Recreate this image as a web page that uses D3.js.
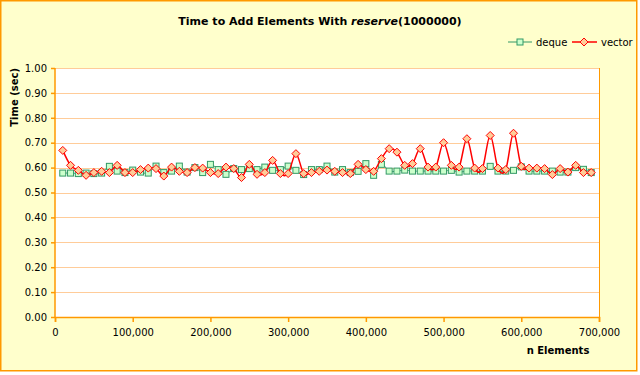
<!DOCTYPE html>
<html>
<head>
<meta charset="utf-8">
<script src="https://cdn.jsdelivr.net/npm/d3@7"></script>
<style>
  body { margin: 0; background: #fff; }
  text { font-family: "DejaVu Sans", Verdana, sans-serif; }
</style>
</head>
<body>
<script>
// n elements (x values)
const nElements = [10000, 20000, 30000, 40000, 50000, 60000, 70000, 80000, 90000, 100000,
  110000, 120000, 130000, 140000, 150000, 160000, 170000, 180000, 190000, 200000,
  210000, 220000, 230000, 240000, 250000, 260000, 270000, 280000, 290000, 300000,
  310000, 320000, 330000, 340000, 350000, 360000, 370000, 380000, 390000, 400000,
  410000, 420000, 430000, 440000, 450000, 460000, 470000, 480000, 490000, 500000,
  510000, 520000, 530000, 540000, 550000, 560000, 570000, 580000, 590000, 600000,
  610000, 620000, 630000, 640000, 650000, 660000, 670000, 680000, 690000]

// time (sec)
const dequeTimes = [0.578, 0.578, 0.576, 0.578, 0.576, 0.578, 0.605, 0.586, 0.580, 0.590,
  0.582, 0.578, 0.606, 0.580, 0.586, 0.606, 0.582, 0.600, 0.580, 0.613,
  0.592, 0.573, 0.596, 0.592, 0.596, 0.592, 0.602, 0.589, 0.592, 0.606,
  0.589, 0.572, 0.592, 0.592, 0.606, 0.582, 0.592, 0.580, 0.585, 0.616,
  0.569, 0.613, 0.586, 0.586, 0.590, 0.586, 0.586, 0.586, 0.586, 0.586,
  0.589, 0.582, 0.586, 0.586, 0.586, 0.605, 0.586, 0.586, 0.589, 0.603,
  0.586, 0.586, 0.586, 0.586, 0.582, 0.582, 0.600, 0.593, 0.580]

const vectorTimes = [0.669, 0.609, 0.589, 0.569, 0.580, 0.585, 0.580, 0.609, 0.580, 0.580,
  0.592, 0.598, 0.596, 0.566, 0.602, 0.585, 0.580, 0.600, 0.598, 0.580,
  0.576, 0.602, 0.596, 0.560, 0.613, 0.573, 0.580, 0.629, 0.576, 0.576,
  0.656, 0.576, 0.580, 0.585, 0.590, 0.585, 0.580, 0.576, 0.613, 0.592,
  0.585, 0.636, 0.676, 0.662, 0.609, 0.616, 0.676, 0.602, 0.602, 0.700,
  0.609, 0.602, 0.716, 0.598, 0.596, 0.729, 0.598, 0.592, 0.738, 0.605,
  0.598, 0.598, 0.596, 0.572, 0.596, 0.582, 0.609, 0.580, 0.580]

const xTicks = [0, 100000, 200000, 300000, 400000, 500000, 600000, 700000]
const yTicks = [0, 0.1, 0.2, 0.3, 0.4, 0.5, 0.6, 0.7, 0.8, 0.9, 1.0]
const seriesNames = ["deque", "vector"]

const W = 640, H = 375
const plotL = 55, plotR = 599, plotT = 68, plotB = 317
const orange = "#ff9900"

const svg = d3.select("body").append("svg").attr("width", W).attr("height", H)

// chart background + border
svg.append("rect").attr("x", 0.75).attr("y", 0.75).attr("width", 636).attr("height", 370)
  .attr("fill", "#ffffcc").attr("stroke", orange).attr("stroke-width", 1.5)

const x = d3.scaleLinear().domain([0, 700000]).range([plotL, plotR])
const y = d3.scaleLinear().domain([0, 1]).range([plotB, plotT])

svg.append("rect").attr("x", plotL).attr("y", plotT)
  .attr("width", plotR - plotL).attr("height", plotB - plotT).attr("fill", "#fff")

// gridlines
svg.append("g").selectAll("line").data(yTicks.slice(1)).enter().append("line")
  .attr("x1", plotL).attr("x2", plotR)
  .attr("y1", d => Math.round(y(d)) + 0.5).attr("y2", d => Math.round(y(d)) + 0.5)
  .attr("stroke", "#ffcc99").attr("stroke-width", 1)

// right border of plot
svg.append("line").attr("x1", plotR + 0.5).attr("x2", plotR + 0.5)
  .attr("y1", plotT).attr("y2", plotB).attr("stroke", orange)

// axes
const yAxis = d3.axisLeft(y).tickValues(yTicks).tickFormat(d3.format(".2f")).tickSize(4).tickPadding(4)
const xAxis = d3.axisBottom(x).tickValues(xTicks).tickFormat(d3.format(",")).tickSize(5).tickPadding(7)

const gy = svg.append("g").attr("transform", "translate(" + plotL + ",0)").call(yAxis)
const gx = svg.append("g").attr("transform", "translate(0," + plotB + ")").call(xAxis)
;[gy, gx].forEach(g => {
  g.selectAll("path,line").attr("stroke", orange).attr("stroke-width", 1.5)
  g.selectAll("text").attr("fill", "#000").style("font-size", "10px")
    .style("font-family", "DejaVu Sans, Verdana, sans-serif")
})
gy.select(".domain").attr("d", "M0," + plotB + "V" + plotT)

// series
const pts = vals => vals.map((v, i) => [x(nElements[i]), y(v)])
const line = d3.line().curve(d3.curveCatmullRom.alpha(0))

const diamond = "M0,-4L4,0L0,4L-4,0Z"

function drawDeque() {
  const g = svg.append("g")
  g.append("path").attr("d", line(pts(dequeTimes)))
    .attr("fill", "none").attr("stroke", "#339966").attr("stroke-width", 1)
  g.selectAll("rect").data(pts(dequeTimes)).enter().append("rect")
    .attr("x", d => d[0] - 3).attr("y", d => d[1] - 3)
    .attr("width", 6).attr("height", 6)
    .attr("fill", "#ccffcc").attr("stroke", "#339966").attr("stroke-width", 1)
}
function drawVector() {
  const g = svg.append("g")
  g.append("path").attr("d", line(pts(vectorTimes)))
    .attr("fill", "none").attr("stroke", "#ff0000").attr("stroke-width", 1.5)
  g.selectAll("path.m").data(pts(vectorTimes)).enter().append("path").attr("class", "m")
    .attr("d", diamond).attr("transform", d => "translate(" + d[0] + "," + d[1] + ")")
    .attr("fill", "#ffcc99").attr("stroke", "#ff0000").attr("stroke-width", 1)
}
drawDeque()
drawVector()

// title
const title = svg.append("text").attr("x", 320).attr("y", 25).attr("text-anchor", "middle")
  .style("font-size", "11px").style("font-weight", "bold")
title.append("tspan").text("Time to Add Elements With ")
title.append("tspan").style("font-style", "italic").text("reserve")
title.append("tspan").text("(1000000)")

// axis titles
svg.append("text").attr("transform", "translate(18," + plotT + ") rotate(-90)")
  .attr("text-anchor", "end").style("font-size", "10px").style("font-weight", "bold")
  .text("Time (sec)")
svg.append("text").attr("x", 558).attr("y", 354).attr("text-anchor", "middle")
  .style("font-size", "10px").style("font-weight", "bold").text("n Elements")

// legend
const lg = svg.append("g").attr("transform", "translate(0,42)")
lg.append("line").attr("x1", 508).attr("x2", 532).attr("stroke", "#339966")
lg.append("rect").attr("x", 517).attr("y", -3).attr("width", 6).attr("height", 6)
  .attr("fill", "#ccffcc").attr("stroke", "#339966")
lg.append("text").attr("x", 536).attr("y", 4).style("font-size", "10px").text(seriesNames[0])
lg.append("line").attr("x1", 572).attr("x2", 597).attr("stroke", "#ff0000").attr("stroke-width", 1.5)
lg.append("path").attr("d", diamond).attr("transform", "translate(584,0)")
  .attr("fill", "#ffcc99").attr("stroke", "#ff0000")
lg.append("text").attr("x", 601).attr("y", 4).style("font-size", "10px").text(seriesNames[1])
</script>
</body>
</html>
